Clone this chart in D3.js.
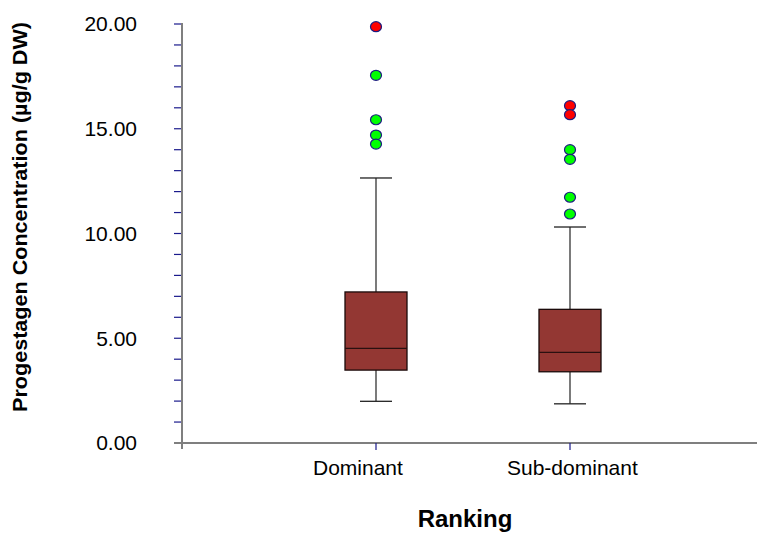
<!DOCTYPE html>
<html>
<head>
<meta charset="utf-8">
<script src="https://cdn.jsdelivr.net/npm/d3@7"></script>
<style>
  body { margin: 0; background: #fff; }
  svg { display: block; font-family: Arial, "Liberation Sans", sans-serif; }
</style>
</head>
<body>
<svg width="757" height="533"></svg>
<script>
const categories = ["Dominant", "Sub-dominant"];
// box statistics per category
const lowerWhisker = [1.99, 1.87];
const q1 = [3.48, 3.40];
const median = [4.52, 4.33];
const q3 = [7.21, 6.38];
const upperWhisker = [12.65, 10.31];
// outliers: green = outlier, red = extreme
const outliersDominant = [19.87, 17.55, 15.43, 14.70, 14.27];
const extremeDominant = [true, false, false, false, false];
const outliersSub = [16.10, 15.67, 14.00, 13.54, 11.73, 10.93];
const extremeSub = [true, true, false, false, false, false];
const yTickLabels = [0, 5, 10, 15, 20];

const svg = d3.select("svg");

const x = d3.scaleLinear().domain([0, 3]).range([182, 764]);
const y = d3.scaleLinear().domain([0, 20]).range([443, 24]);

// y axis minor ticks
const yAxis = svg.append("g").attr("transform", `translate(${x(0)},0)`);
yAxis.selectAll("line.tick")
  .data(d3.range(0, 21))
  .join("line")
  .attr("x1", -8).attr("x2", 0)
  .attr("y1", d => y(d)).attr("y2", d => y(d))
  .attr("stroke", "#1a1a8c").attr("stroke-width", 1.2);
yAxis.append("line")
  .attr("x1", 0).attr("x2", 0)
  .attr("y1", y(20) - 1).attr("y2", y(0) + 6)
  .attr("stroke", "#7f7f7f").attr("stroke-width", 2);
yAxis.selectAll("text")
  .data(yTickLabels)
  .join("text")
  .attr("x", -45).attr("y", d => y(d))
  .attr("dy", "0.35em")
  .attr("text-anchor", "end")
  .attr("font-size", 21)
  .text(d => d.toFixed(2));

// x axis
const xAxis = svg.append("g");
xAxis.append("line")
  .attr("x1", x(0) - 8).attr("x2", 757)
  .attr("y1", y(0)).attr("y2", y(0))
  .attr("stroke", "#7f7f7f").attr("stroke-width", 2);
xAxis.selectAll("line.tick")
  .data(categories)
  .join("line")
  .attr("x1", (d, i) => x(i + 1)).attr("x2", (d, i) => x(i + 1))
  .attr("y1", y(0)).attr("y2", y(0) + 7)
  .attr("stroke", "#1a1a8c").attr("stroke-width", 1.2);
// labels start at a fixed offset left of each tick, as in the original
xAxis.selectAll("text")
  .data(categories)
  .join("text")
  .attr("x", (d, i) => x(i + 1) - 63).attr("y", y(0) + 32)
  .attr("text-anchor", "start")
  .attr("font-size", 21)
  .text(d => d);

// boxes
const boxHalf = 31, capHalf = 16;
const g = svg.append("g");
categories.forEach((c, i) => {
  const cx = x(i + 1);
  // whiskers
  g.append("line").attr("x1", cx).attr("x2", cx)
    .attr("y1", y(q3[i])).attr("y2", y(upperWhisker[i]))
    .attr("stroke", "#333").attr("stroke-width", 1.3);
  g.append("line").attr("x1", cx).attr("x2", cx)
    .attr("y1", y(q1[i])).attr("y2", y(lowerWhisker[i]))
    .attr("stroke", "#333").attr("stroke-width", 1.3);
  g.append("line").attr("x1", cx - capHalf).attr("x2", cx + capHalf)
    .attr("y1", y(upperWhisker[i])).attr("y2", y(upperWhisker[i]))
    .attr("stroke", "#222").attr("stroke-width", 1.3);
  g.append("line").attr("x1", cx - capHalf).attr("x2", cx + capHalf)
    .attr("y1", y(lowerWhisker[i])).attr("y2", y(lowerWhisker[i]))
    .attr("stroke", "#222").attr("stroke-width", 1.3);
  g.append("rect")
    .attr("x", cx - boxHalf).attr("width", boxHalf * 2)
    .attr("y", y(q3[i])).attr("height", y(q1[i]) - y(q3[i]))
    .attr("fill", "#933733").attr("stroke", "#1a0a0a").attr("stroke-width", 1.3);
  g.append("line").attr("x1", cx - boxHalf).attr("x2", cx + boxHalf)
    .attr("y1", y(median[i])).attr("y2", y(median[i]))
    .attr("stroke", "#2a1010").attr("stroke-width", 1.3);
});

// outliers
const outlierSets = [
  { vals: outliersDominant, ext: extremeDominant },
  { vals: outliersSub, ext: extremeSub }
];
outlierSets.forEach((s, i) => {
  g.selectAll(null)
    .data(s.vals)
    .join("ellipse")
    .attr("cx", x(i + 1))
    .attr("cy", d => y(d))
    .attr("rx", 5.5).attr("ry", 5)
    .attr("fill", (d, j) => s.ext[j] ? "#ff0000" : "#00ff00")
    .attr("stroke", "#1c1c80").attr("stroke-width", 1.2);
});

// titles
svg.append("text")
  .attr("x", 465).attr("y", 527)
  .attr("text-anchor", "middle")
  .attr("font-size", 24).attr("font-weight", "bold")
  .text("Ranking");
svg.append("text")
  .attr("transform", `translate(27,217) rotate(-90)`)
  .attr("text-anchor", "middle")
  .attr("font-size", 20).attr("font-weight", "bold")
  .attr("textLength", 390).attr("lengthAdjust", "spacingAndGlyphs")
  .text("Progestagen Concentration (µg/g DW)");
</script>
</body>
</html>
